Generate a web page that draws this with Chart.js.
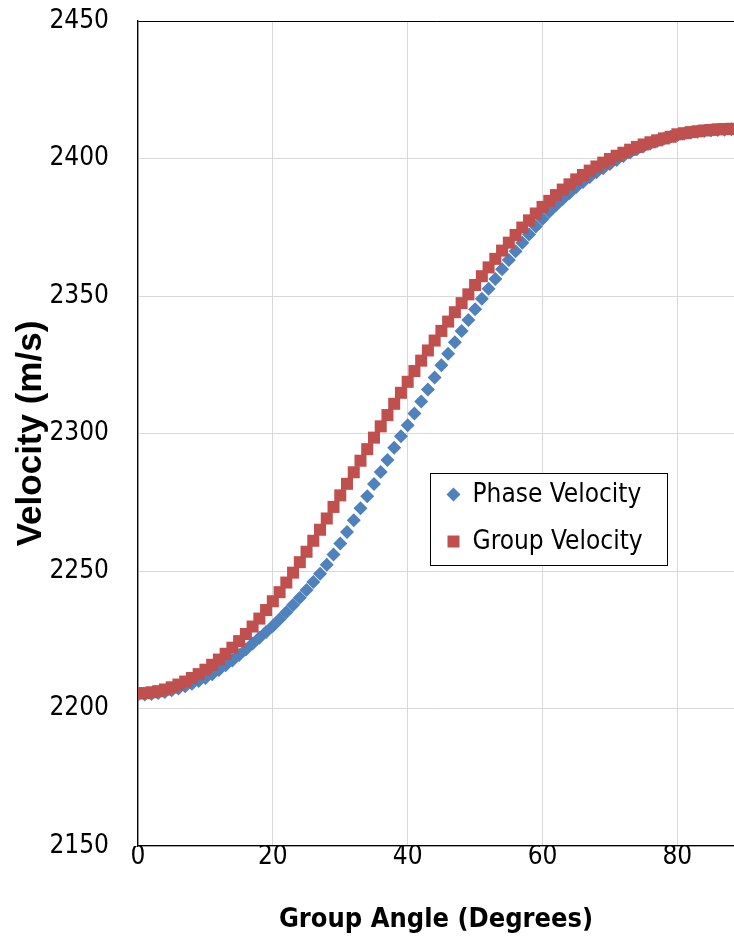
<!DOCTYPE html>
<html>
<head>
<meta charset="utf-8">
<title>Phase and Group Velocity</title>
<script src="https://cdn.jsdelivr.net/npm/chart.js@4.4.1/dist/chart.umd.min.js"></script>
<style>
  html, body { margin: 0; padding: 0; background: #fff; }
  #wrap { width: 734px; height: 945px; }
</style>
</head>
<body>
<div id="wrap"><canvas id="chartVel" width="734" height="945"></canvas></div>
<script>
// group angle, degrees
const angles = [
  0, 1, 2, 3, 4, 5, 6, 7, 8, 9,
  10, 11, 12, 13, 14, 15, 16, 17, 18, 19,
  20, 21, 22, 23, 24, 25, 26, 27, 28, 29,
  30, 31, 32, 33, 34, 35, 36, 37, 38, 39,
  40, 41, 42, 43, 44, 45, 46, 47, 48, 49,
  50, 51, 52, 53, 54, 55, 56, 57, 58, 59,
  60, 61, 62, 63, 64, 65, 66, 67, 68, 69,
  70, 71, 72, 73, 74, 75, 76, 77, 78, 79,
  80, 81, 82, 83, 84, 85, 86, 87, 88
];

// m/s
const phaseVelocity = [
  2205.0, 2205.1, 2205.3, 2205.6, 2206.0, 2206.6, 2207.3, 2208.1, 2209.0, 2210.0,
  2211.1, 2212.5, 2214.0, 2215.7, 2217.5, 2219.5, 2221.5, 2223.6, 2225.7, 2227.8,
  2230.0, 2232.5, 2235.0, 2237.6, 2240.3, 2243.1, 2246.0, 2249.0, 2252.3, 2256.0,
  2260.0, 2264.2, 2268.5, 2272.8, 2277.2, 2281.6, 2286.0, 2290.4, 2294.8, 2299.0,
  2303.0, 2307.3, 2311.6, 2316.0, 2320.4, 2324.8, 2329.0, 2333.2, 2337.3, 2341.3,
  2345.2, 2349.0, 2352.6, 2356.2, 2359.7, 2363.1, 2366.3, 2369.4, 2372.4, 2375.3,
  2378.0, 2380.6, 2383.0, 2385.3, 2387.5, 2389.6, 2391.5, 2393.3, 2395.0, 2396.5,
  2398.0, 2399.5, 2400.9, 2402.2, 2403.4, 2404.5, 2405.5, 2406.4, 2407.2, 2407.9,
  2408.5, 2409.0, 2409.4, 2409.7, 2410.0, 2410.2, 2410.4, 2410.5, 2410.6
];

const groupVelocity = [
  2205.5, 2205.6, 2205.9, 2206.3, 2206.9, 2207.7, 2208.7, 2209.8, 2211.1, 2212.5,
  2214.1, 2215.9, 2217.8, 2219.9, 2222.1, 2224.5, 2227.1, 2229.8, 2232.7, 2235.8,
  2239.0, 2242.3, 2245.8, 2249.4, 2253.2, 2257.0, 2261.0, 2265.0, 2269.1, 2273.3,
  2277.5, 2281.7, 2285.9, 2290.1, 2294.3, 2298.5, 2302.6, 2306.7, 2310.8, 2314.8,
  2318.8, 2322.7, 2326.5, 2330.2, 2333.8, 2337.3, 2340.7, 2344.1, 2347.4, 2350.6,
  2354.0, 2357.2, 2360.4, 2363.5, 2366.5, 2369.4, 2372.2, 2374.9, 2377.5, 2380.0,
  2382.4, 2384.6, 2386.7, 2388.7, 2390.6, 2392.4, 2394.0, 2395.6, 2397.1, 2398.5,
  2399.8, 2401.0, 2402.1, 2403.2, 2404.2, 2405.1, 2405.9, 2406.6, 2407.3, 2407.9,
  2408.8, 2409.2, 2409.6, 2409.9, 2410.2, 2410.4, 2410.6, 2410.7, 2410.8
];

const xTicks = [0, 20, 40, 60, 80];
const yTicks = [2150, 2200, 2250, 2300, 2350, 2400, 2450];

const BLUE = '#4F81BD';
const RED = '#C0504D';
const NARROW = "'Liberation Sans Narrow', 'DejaVu Sans Condensed', 'Liberation Sans', sans-serif";
const WIDE = "'Liberation Sans', 'DejaVu Sans', sans-serif";

// where the plot area sits in the reference
const AREA = { left: 138, top: 21, right: 734, bottom: 846 };

const toPoints = vals => vals.map((v, i) => ({ x: angles[i], y: v }));

// legend box sits inside the plot, like the Excel one
const legendBox = {
  id: 'legendBox',
  afterDraw(chart) {
    const { ctx, chartArea: a } = chart;
    const w = a.right - a.left, h = a.bottom - a.top;
    const x0 = Math.round(a.left + w * 0.49) + 0.5;
    const y0 = Math.round(a.top + h * 0.548) + 0.5;
    const x1 = Math.round(a.left + w * 0.8876) + 0.5;
    const y1 = Math.round(a.top + h * 0.659) + 0.5;
    ctx.save();
    ctx.fillStyle = '#fff';
    ctx.fillRect(x0, y0, x1 - x0, y1 - y0);
    ctx.strokeStyle = '#000';
    ctx.lineWidth = 1;
    ctx.strokeRect(x0, y0, x1 - x0, y1 - y0);

    const items = [
      { label: 'Phase Velocity', color: BLUE, shape: 'diamond', y: y0 + 21 },
      { label: 'Group Velocity', color: RED, shape: 'square', y: y0 + 68 }
    ];
    ctx.font = '26px ' + NARROW;
    ctx.textBaseline = 'middle';
    items.forEach(it => {
      const mx = x0 + 23;
      ctx.fillStyle = it.color;
      ctx.beginPath();
      if (it.shape === 'diamond') {
        ctx.moveTo(mx, it.y - 7);
        ctx.lineTo(mx + 7, it.y);
        ctx.lineTo(mx, it.y + 7);
        ctx.lineTo(mx - 7, it.y);
        ctx.closePath();
      } else {
        ctx.rect(mx - 6, it.y - 6, 12, 12);
      }
      ctx.fill();
      ctx.fillStyle = '#000';
      ctx.fillText(it.label, x0 + 42, it.y + 1);
    });
    ctx.restore();
  }
};

new Chart(document.getElementById('chartVel').getContext('2d'), {
  type: 'scatter',
  data: {
    datasets: [
      {
        label: 'Phase Velocity',
        data: toPoints(phaseVelocity),
        backgroundColor: BLUE,
        borderColor: BLUE,
        pointStyle: 'rectRot',
        pointRadius: 7,
        pointBorderWidth: 0,
        order: 2
      },
      {
        label: 'Group Velocity',
        data: toPoints(groupVelocity),
        backgroundColor: RED,
        borderColor: RED,
        pointStyle: 'rect',
        pointRadius: 8.5,
        pointBorderWidth: 0,
        order: 1
      }
    ]
  },
  options: {
    responsive: false,
    animation: false,
    devicePixelRatio: 1,
    layout: { autoPadding: false, padding: { top: AREA.top, right: 0, bottom: 0, left: 0 } },
    plugins: { legend: { display: false }, tooltip: { enabled: false } },
    scales: {
      x: {
        type: 'linear',
        min: 0,
        max: 88.4,
        afterBuildTicks: s => { s.ticks = xTicks.map(v => ({ value: v })); },
        afterFit: s => { s.height = 945 - AREA.bottom; },
        grid: { color: '#D9D9D9', lineWidth: 1, drawTicks: false },
        border: { color: '#000', width: 1.3 },
        ticks: {
          color: '#000',
          padding: -2,
          callback: v => String(v),
          font: { family: NARROW, size: 26, lineHeight: 1 }
        },
        title: {
          display: true,
          text: 'Group Angle (Degrees)',
          color: '#000',
          font: { family: NARROW, size: 27, weight: 'bold', lineHeight: 1.2 },
          padding: { top: 0, bottom: 9 }
        }
      },
      y: {
        min: 2150,
        max: 2450,
        afterBuildTicks: s => { s.ticks = yTicks.map(v => ({ value: v })); },
        // fixed width, and drop the label overhang chart.js would add above/below
        afterFit: s => { s.width = AREA.left; s.paddingTop = 0; s.paddingBottom = 0; },
        grid: {
          color: c => (c.tick && c.tick.value === 2450 ? '#000' : '#D9D9D9'),
          lineWidth: 1,
          drawTicks: false
        },
        border: { color: '#000', width: 1.3 },
        ticks: {
          color: '#000',
          padding: 29,
          callback: v => String(v),
          font: { family: NARROW, size: 26 }
        },
        title: {
          display: true,
          text: 'Velocity (m/s)',
          color: '#000',
          font: { family: WIDE, size: 35, weight: 'bold', lineHeight: 1.2 },
          padding: { top: 10, bottom: 0 }
        }
      }
    }
  },
  plugins: [legendBox]
});
</script>
</body>
</html>
